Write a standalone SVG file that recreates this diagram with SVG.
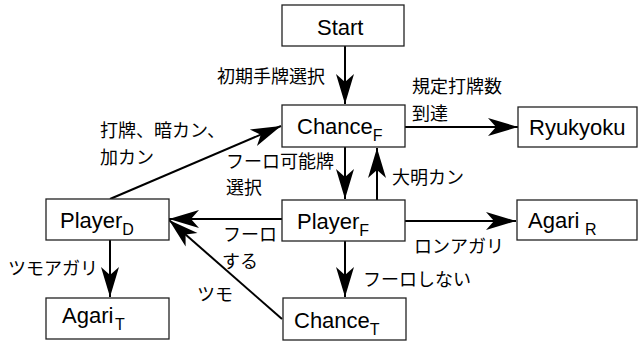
<svg xmlns="http://www.w3.org/2000/svg" width="638" height="342" viewBox="0 0 638 342">
<defs>
<style>
.box{fill:#fff;stroke:#222;stroke-width:1.3}
.nt{font-family:"Liberation Sans",Arial,sans-serif;font-size:22px;fill:#000}
.sub{font-size:16px}
.lb{font-family:"Noto Sans CJK JP","Noto Sans CJK SC",sans-serif;font-size:18px;fill:#000}
.edge{fill:none;stroke:#000;stroke-width:2}
</style>
<marker id="arr" markerUnits="userSpaceOnUse" markerWidth="30" markerHeight="18" refX="30" refY="9" orient="auto" overflow="visible">
<path d="M30,9 L0,0 L8,9 L0,18 Z" fill="#000"/>
</marker>
</defs>
<rect width="638" height="342" fill="#fff"/>
<g id="connectors">
<path class="edge" marker-end="url(#arr)" d="M345,46 L345,104"/>
<path class="edge" marker-end="url(#arr)" d="M405,127 L518,127"/>
<path class="edge" marker-end="url(#arr)" d="M110,199 L281,126"/>
<path class="edge" marker-end="url(#arr)" d="M345,147 L345,199"/>
<path class="edge" marker-end="url(#arr)" d="M377,200 L377,148"/>
<path class="edge" marker-end="url(#arr)" d="M282,219 L169,219"/>
<path class="edge" marker-end="url(#arr)" d="M282,319 L169,220"/>
<path class="edge" marker-end="url(#arr)" d="M405,221 L516,221"/>
<path class="edge" marker-end="url(#arr)" d="M345,241 L345,297"/>
<path class="edge" marker-end="url(#arr)" d="M110,240 L110,297"/>
</g>
<g id="labels">
<text class="lb" x="217" y="83">初期手牌選択</text>
<text class="lb" x="412" y="93">規定打牌数<tspan x="412" dy="26.5">到達</tspan></text>
<text class="lb" x="100" y="137">打牌、暗カン、<tspan x="100" dy="26.5">加カン</tspan></text>
<text class="lb" x="226" y="167.5">フーロ可能牌<tspan x="226" dy="26.5">選択</tspan></text>
<text class="lb" x="392" y="184">大明カン</text>
<text class="lb" x="414" y="253">ロンアガリ</text>
<text class="lb" x="363" y="286">フーロしない</text>
<text class="lb" x="223" y="241">フーロ<tspan x="222" dy="26.5">する</tspan></text>
<text class="lb" x="197" y="301">ツモ</text>
<text class="lb" x="8" y="275">ツモアガリ</text>
</g>
<g id="start"><rect class="box" x="282" y="5" width="122" height="41"/><text class="nt" x="317" y="35">Start</text></g>
<g id="chanceF"><rect class="box" x="282" y="105" width="123" height="42"/><text class="nt" x="297" y="134">Chance<tspan class="sub" dy="7">F</tspan></text></g>
<g id="ryukyoku"><rect class="box" x="518" y="107" width="119" height="40"/><text class="nt" x="529" y="135">Ryukyoku</text></g>
<g id="playerD"><rect class="box" x="46" y="199" width="123" height="41"/><text class="nt" x="60" y="228">Player<tspan class="sub" dy="7">D</tspan></text></g>
<g id="playerF"><rect class="box" x="282" y="200" width="123" height="41"/><text class="nt" x="297" y="229">Player<tspan class="sub" dy="7">F</tspan></text></g>
<g id="agariR"><rect class="box" x="517" y="200" width="120" height="40"/><text class="nt" x="528" y="228">Agari<tspan class="sub" x="585" dy="7">R</tspan></text></g>
<g id="agariT"><rect class="box" x="46" y="298" width="123" height="41"/><text class="nt" x="62" y="323">Agari<tspan class="sub" x="115" dy="7">T</tspan></text></g>
<g id="chanceT"><rect class="box" x="283" y="298" width="123" height="42"/><text class="nt" x="294" y="328">Chance<tspan class="sub" dy="7">T</tspan></text></g>
</svg>
